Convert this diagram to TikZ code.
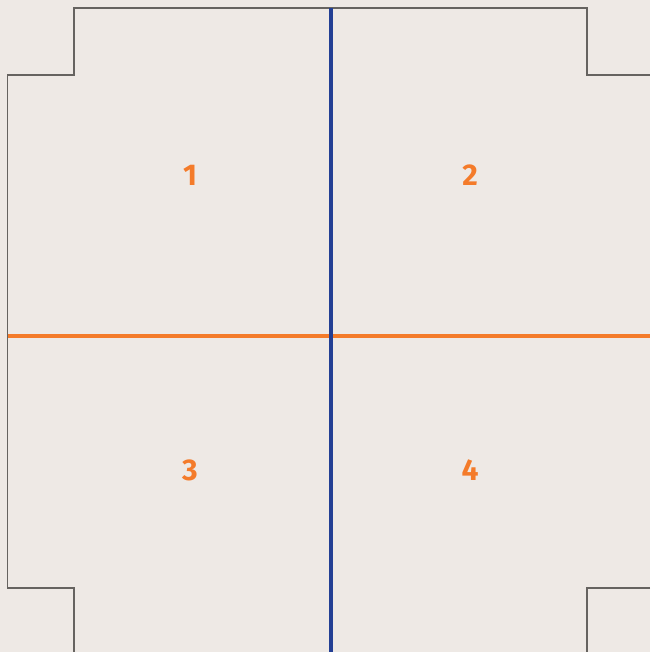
\documentclass[tikz,border=0pt]{standalone}
\usepackage{fontspec}
\setmainfont{Fira Sans}
\definecolor{bg}{HTML}{EEE9E5}
\definecolor{outl}{HTML}{666360}
\definecolor{orng}{HTML}{F47B2A}
\definecolor{blu}{HTML}{233F94}
\begin{document}
\begin{tikzpicture}[x=1pt,y=-1pt,
  lbl/.style={text=orng,font=\fontsize{30}{30}\selectfont\bfseries,inner sep=0pt}]
\fill[bg] (0,0) rectangle (650,652);
\useasboundingbox (0,0) rectangle (650,652);
\draw[outl,line width=1.8pt] (74,652) -- (74,588) -- (7.5,588) -- (7.5,75) -- (74,75) -- (74,8) -- (587,8) -- (587,75) -- (650,75);
\draw[outl,line width=1.8pt] (650,588) -- (587,588) -- (587,652);
\coordinate (hl) at (8,336);
\coordinate (hr) at (650,336);
\coordinate (vt) at (331,8);
\coordinate (vb) at (331,652);
\draw[orng,line width=4.5pt] (hl) -- (hr);
\draw[blu,line width=4.5pt] (vt) -- (vb);
\node[lbl] (n1) at (190,175) {1};
\node[lbl] (n2) at (470,175) {2};
\node[lbl] (n3) at (190,470) {3};
\node[lbl] (n4) at (470,470) {4};
\end{tikzpicture}
\end{document}
